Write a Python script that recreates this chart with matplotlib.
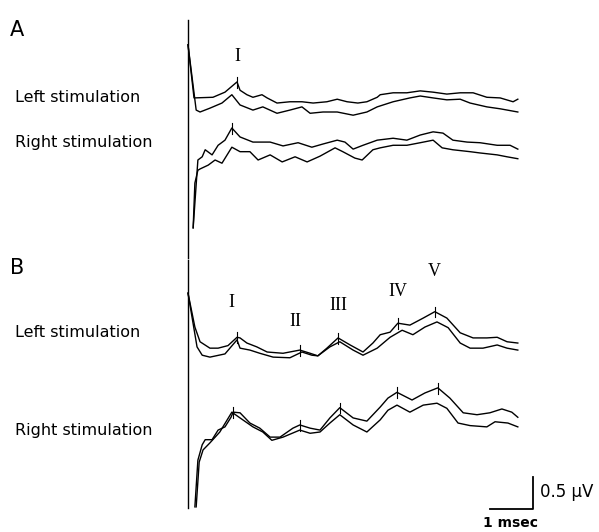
import numpy as np
import matplotlib.pyplot as plt

# latencies in msec, amplitudes in microvolts
a_left_up_t = [0, 0.14, 0.58, 0.86, 1.14, 1.21, 1.37, 1.51, 1.72, 1.84, 2.07, 2.37, 2.65, 2.91, 3.23, 3.47, 3.7, 3.95, 4.16, 4.4, 4.47, 4.77, 5.09, 5.4, 5.7, 6.02, 6.33, 6.63, 6.95, 7.26, 7.56, 7.67]
a_left_up_v = [0.85, 0.02, 0.03, 0.11, 0.27, 0.14, 0.07, 0.03, 0.07, 0.02, -0.06, -0.04, -0.04, -0.06, -0.04, 0.0, -0.04, -0.06, -0.04, 0.03, 0.07, 0.1, 0.1, 0.13, 0.11, 0.08, 0.1, 0.1, 0.03, 0.02, -0.04, 0.0]
a_left_lo_t = [0, 0.19, 0.28, 0.51, 0.79, 1.02, 1.21, 1.51, 1.74, 2.07, 2.37, 2.65, 2.84, 3.14, 3.47, 3.84, 4.16, 4.4, 4.77, 5.16, 5.4, 5.7, 6.02, 6.33, 6.56, 6.95, 7.26, 7.67]
a_left_lo_v = [1.0, -0.02, -0.05, 0.01, 0.09, 0.22, 0.06, -0.02, 0.03, -0.07, -0.02, 0.03, -0.07, -0.05, -0.05, -0.1, -0.05, 0.03, 0.11, 0.17, 0.2, 0.17, 0.14, 0.15, 0.09, 0.03, 0.0, -0.05]
a_right_up_t = [0.12, 0.23, 0.33, 0.4, 0.56, 0.7, 0.86, 1.02, 1.21, 1.51, 1.91, 2.21, 2.56, 2.88, 3.14, 3.47, 3.65, 3.84, 4.07, 4.4, 4.77, 5.09, 5.4, 5.7, 5.93, 6.16, 6.49, 6.79, 7.19, 7.49, 7.67]
a_right_up_v = [-1.36, -0.3, -0.25, -0.14, -0.22, -0.07, 0.01, 0.2, 0.06, -0.02, -0.02, -0.08, -0.03, -0.1, -0.05, 0.01, -0.02, -0.13, -0.07, 0.01, 0.04, 0.01, 0.09, 0.14, 0.12, 0.01, -0.02, -0.03, -0.07, -0.07, -0.13]
a_right_lo_t = [0.12, 0.16, 0.23, 0.28, 0.47, 0.63, 0.79, 1.02, 1.21, 1.44, 1.63, 1.91, 2.19, 2.49, 2.77, 3.07, 3.42, 3.6, 3.88, 4.05, 4.3, 4.47, 4.77, 5.09, 5.4, 5.7, 5.91, 6.16, 6.56, 6.79, 7.19, 7.42, 7.67]
a_right_lo_v = [-1.16, -0.46, -0.26, -0.24, -0.18, -0.1, -0.15, 0.1, 0.03, 0.03, -0.1, -0.02, -0.13, -0.05, -0.13, -0.04, 0.09, 0.03, -0.07, -0.1, 0.06, 0.09, 0.13, 0.13, 0.17, 0.21, 0.09, 0.06, 0.03, 0.01, -0.02, -0.05, -0.08]

b_left_up_t = [0, 0.16, 0.28, 0.51, 0.7, 0.93, 1.14, 1.21, 1.37, 1.6, 1.84, 2.21, 2.6, 2.84, 3.02, 3.23, 3.49, 3.77, 4.07, 4.3, 4.47, 4.7, 4.88, 5.16, 5.47, 5.74, 6.02, 6.33, 6.63, 6.95, 7.19, 7.42, 7.67]
b_left_up_v = [0.82, 0.29, 0.06, -0.04, -0.04, 0.0, 0.13, 0.12, 0.04, -0.02, -0.1, -0.12, -0.07, -0.12, -0.16, -0.04, 0.12, 0.01, -0.1, 0.04, 0.17, 0.21, 0.35, 0.32, 0.43, 0.53, 0.43, 0.2, 0.12, 0.12, 0.13, 0.06, 0.04]
b_left_lo_t = [0, 0.21, 0.33, 0.51, 0.86, 1.14, 1.21, 1.44, 1.67, 1.98, 2.37, 2.65, 2.88, 3.02, 3.3, 3.53, 3.84, 4.07, 4.4, 4.7, 4.98, 5.23, 5.51, 5.79, 6.05, 6.33, 6.56, 6.86, 7.19, 7.42, 7.67]
b_left_lo_v = [0.92, 0.08, -0.05, -0.08, -0.03, 0.19, 0.06, 0.03, -0.02, -0.08, -0.09, 0.0, -0.05, -0.06, 0.08, 0.16, 0.03, -0.05, 0.06, 0.23, 0.34, 0.27, 0.39, 0.47, 0.38, 0.14, 0.06, 0.06, 0.11, 0.06, 0.03]
b_right_up_t = [0.16, 0.23, 0.33, 0.4, 0.56, 0.7, 0.86, 1.0, 1.05, 1.21, 1.44, 1.67, 1.91, 2.14, 2.44, 2.6, 2.84, 3.07, 3.3, 3.53, 3.84, 4.16, 4.47, 4.65, 4.86, 5.21, 5.51, 5.81, 6.09, 6.4, 6.72, 7.02, 7.3, 7.53, 7.67]
b_right_up_v = [-1.37, -0.64, -0.4, -0.32, -0.32, -0.17, -0.12, 0.03, 0.11, 0.1, -0.06, -0.14, -0.28, -0.28, -0.14, -0.09, -0.14, -0.17, 0.02, 0.18, 0.02, -0.03, 0.19, 0.33, 0.42, 0.3, 0.41, 0.49, 0.33, 0.1, 0.07, 0.1, 0.16, 0.11, 0.03]
b_right_lo_t = [0.19, 0.26, 0.35, 0.51, 0.74, 1.02, 1.21, 1.51, 1.74, 1.95, 2.21, 2.6, 2.84, 3.07, 3.3, 3.53, 3.84, 4.16, 4.47, 4.65, 4.86, 5.16, 5.47, 5.79, 6.02, 6.28, 6.56, 6.95, 7.14, 7.44, 7.67]
b_right_lo_v = [-1.27, -0.57, -0.38, -0.27, -0.1, 0.21, 0.12, -0.02, -0.1, -0.23, -0.18, -0.07, -0.12, -0.1, 0.04, 0.17, 0.01, -0.1, 0.09, 0.24, 0.32, 0.21, 0.32, 0.35, 0.27, 0.04, 0.0, -0.02, 0.06, 0.04, -0.02]

# peak latencies marked on the upper trace of each pair
a_left_peaks = [1.14]
a_right_peaks = [1.02]
b_left_peaks = [1.14, 2.6, 3.49, 4.88, 5.74]
b_right_peaks = [1.05, 2.6, 3.53, 4.86, 5.81]
wave_names = ['I', 'II', 'III', 'IV', 'V']

fig = plt.figure(figsize=(5.99, 5.32), dpi=100)
ax = fig.add_axes([0, 0, 1, 1])
ax.set_xlim(-4.372, 9.558)
ax.set_ylim(-8.3125, 0)
ax.axis('off')

traces = [
    (a_left_up_t, a_left_up_v, -1.55),
    (a_left_lo_t, a_left_lo_v, -1.70),
    (a_right_up_t, a_right_up_v, -2.20),
    (a_right_lo_t, a_right_lo_v, -2.40),
    (b_left_up_t, b_left_up_v, -5.40),
    (b_left_lo_t, b_left_lo_v, -5.50),
    (b_right_up_t, b_right_up_v, -6.55),
    (b_right_lo_t, b_right_lo_v, -6.65),
]
for t, v, off in traces:
    ax.plot(t, np.array(v) + off, color='black', lw=1.0)

# peak ticks
marks = [(a_left_peaks, 0), (a_right_peaks, 2), (b_left_peaks, 4), (b_right_peaks, 6)]
for peaks, i in marks:
    t, v, off = traces[i]
    for p in peaks:
        y = np.interp(p, t, v) + off
        ax.plot([p, p], [y - 0.09, y + 0.08], color='black', lw=0.8)

# stimulus onset lines
ax.plot([0, 0], [-0.31, -4.03], color='black', lw=1.0)
ax.plot([0, 0], [-4.06, -7.94], color='black', lw=1.0)

lab = dict(fontsize=11.5, family='DejaVu Sans', va='center', ha='left')
ax.text(-4.14, -0.47, 'A', fontsize=15, va='center', ha='left', family='DejaVu Sans')
ax.text(-4.14, -4.19, 'B', fontsize=15, va='center', ha='left', family='DejaVu Sans')
ax.text(-4.02, -1.52, 'Left stimulation', **lab)
ax.text(-4.02, -2.23, 'Right stimulation', **lab)
ax.text(-4.02, -5.20, 'Left stimulation', **lab)
ax.text(-4.02, -6.72, 'Right stimulation', **lab)

rom = dict(fontsize=13, family='Liberation Serif', va='center', ha='center')
ax.text(1.14, -0.89, 'I', **rom)
b_name_pos = [(1.02, -4.72), (2.49, -5.03), (3.49, -4.77), (4.88, -4.56), (5.72, -4.25)]
for name, (x, y) in zip(wave_names, b_name_pos):
    ax.text(x, y, name, **rom)

# scale bar: 1 msec x 0.5 uV
ax.plot([7.02, 8.02, 8.02], [-7.95, -7.95, -7.45], color='black', lw=1.3)
ax.text(8.19, -7.69, '0.5 µV', fontsize=12, family='DejaVu Sans', va='center', ha='left')
ax.text(7.49, -8.17, '1 msec', fontsize=10, family='DejaVu Sans', fontweight='bold', va='center', ha='center')

fig.savefig('out.png', dpi=100)
